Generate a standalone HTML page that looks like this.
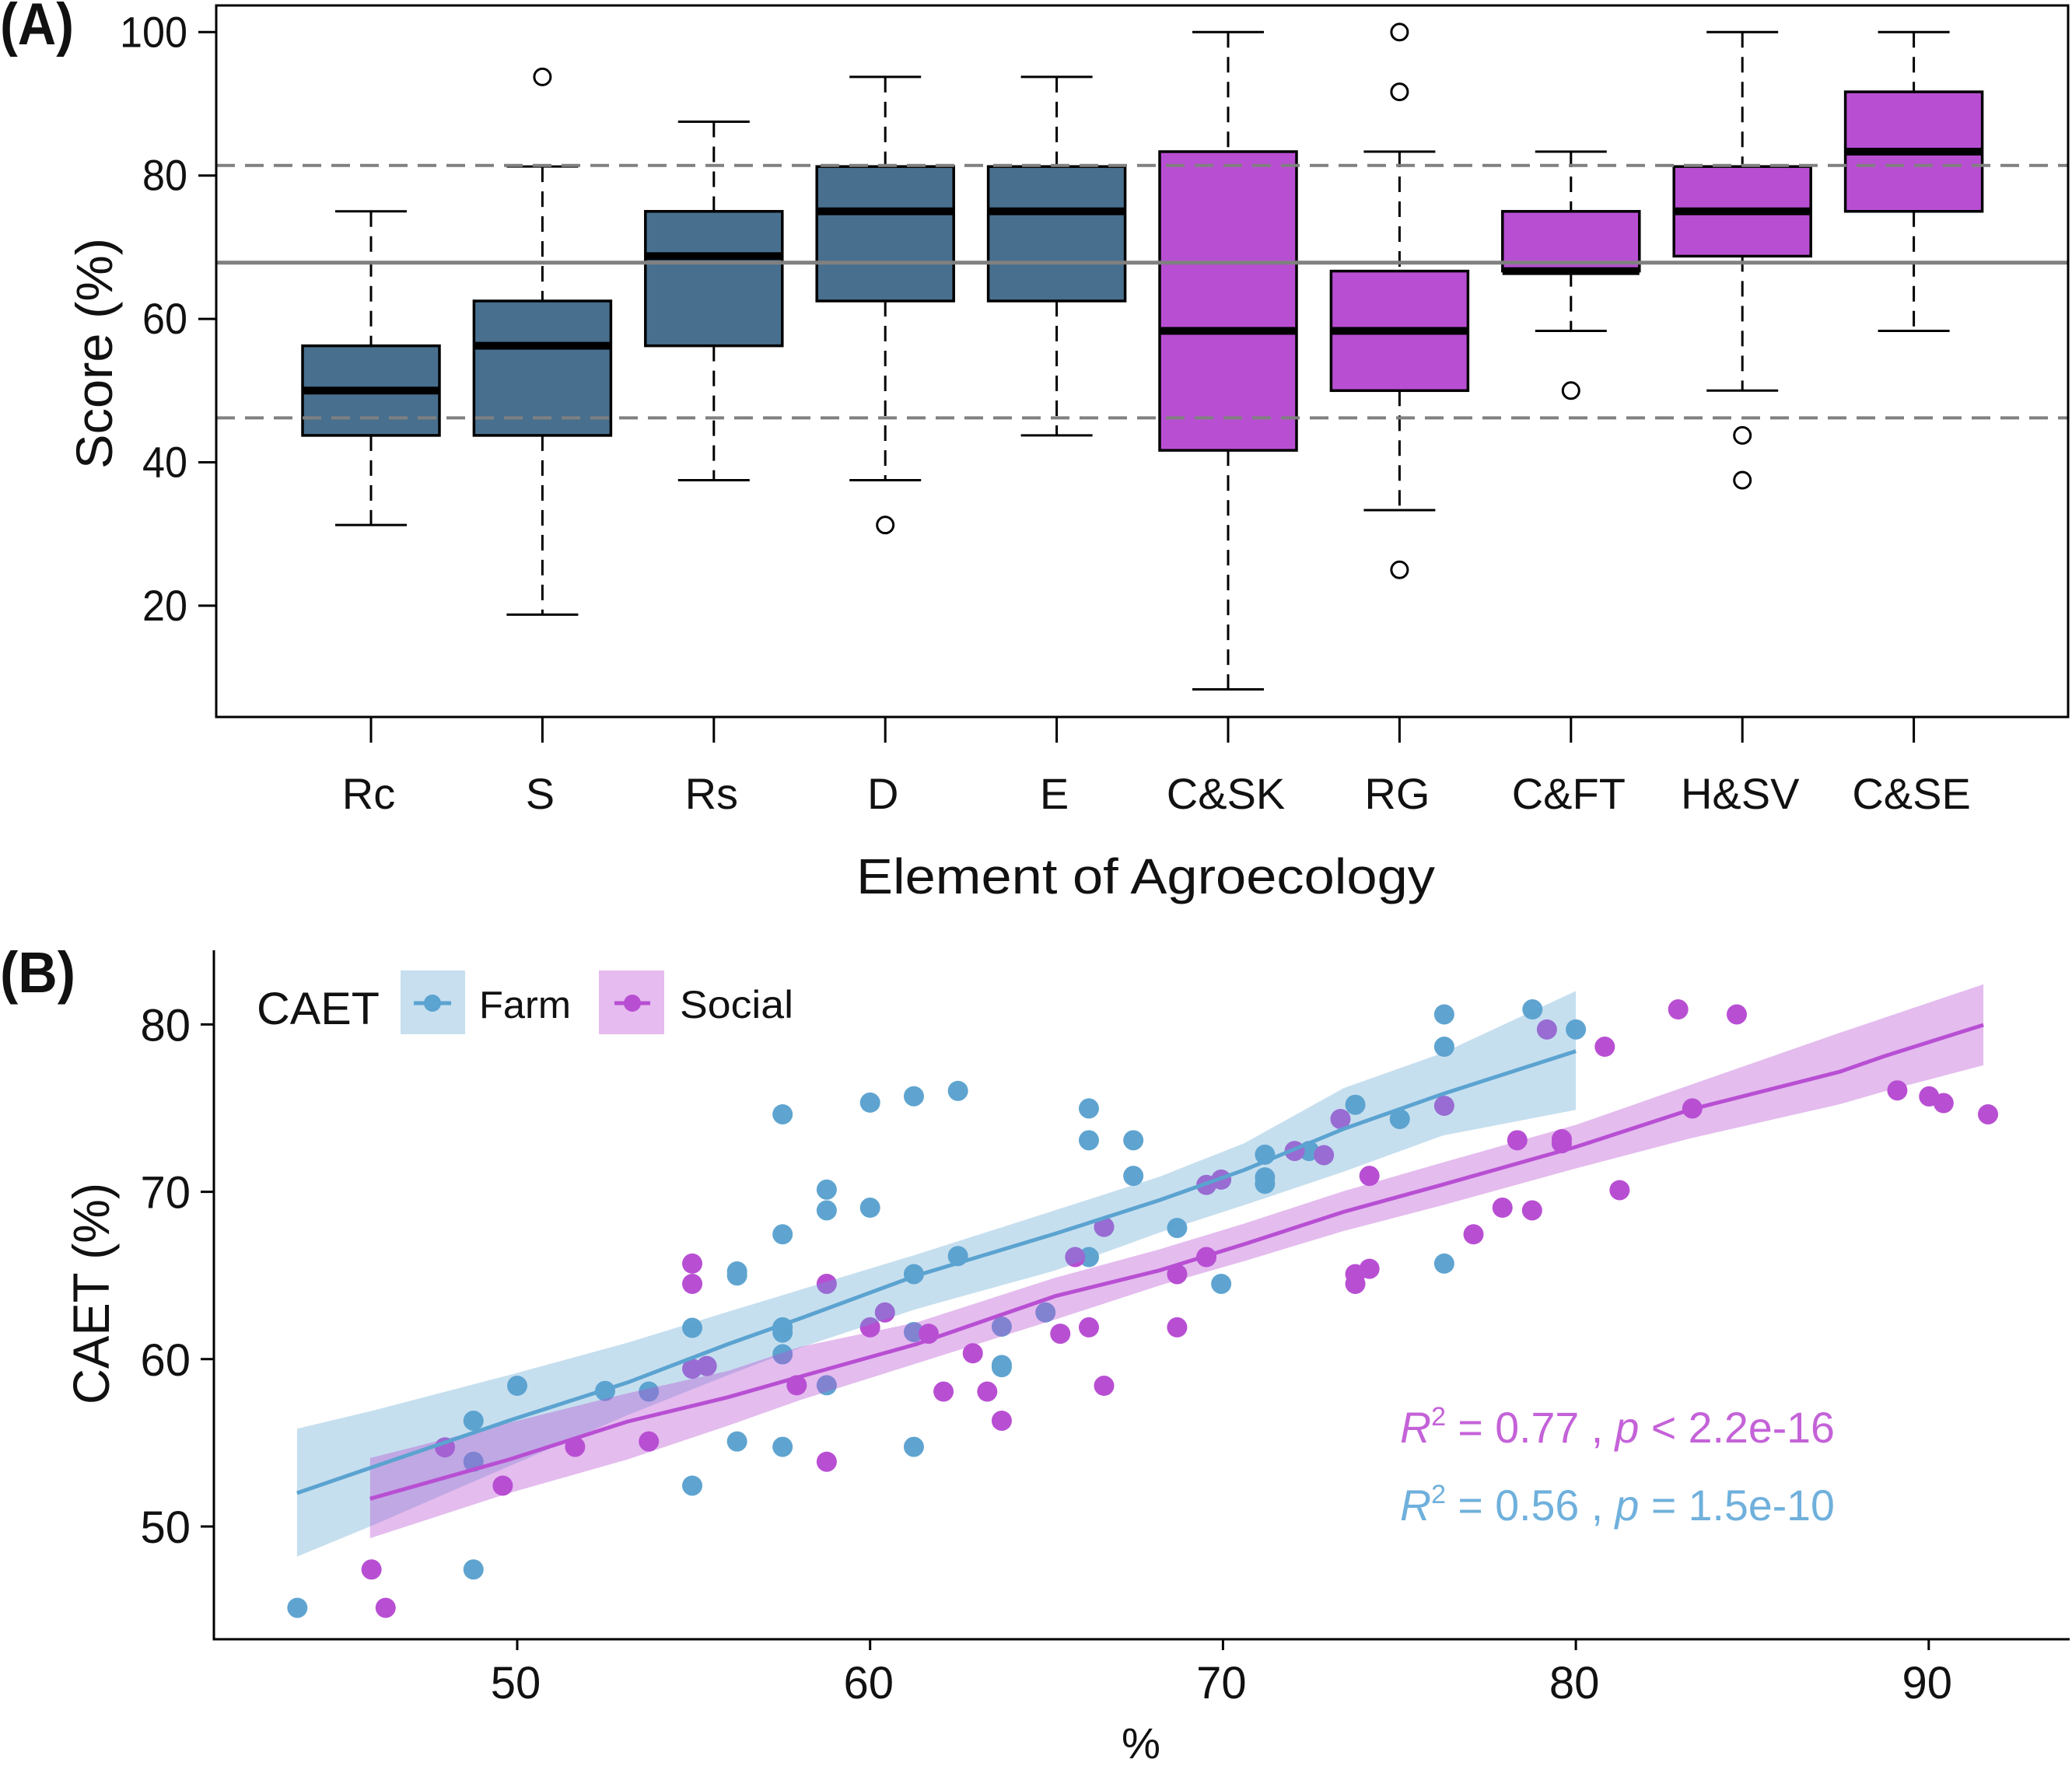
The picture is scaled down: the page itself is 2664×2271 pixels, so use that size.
<!DOCTYPE html>
<html lang="en">
<head>
<meta charset="utf-8">
<title>Agroecology element scores and CAET regression</title>
<style>
  html,body{margin:0;padding:0;background:#fff;}
  svg{display:block;}
  text{font-family:"Liberation Sans",sans-serif;fill:#111;}
</style>
</head>
<body>
<svg id="fig" xmlns="http://www.w3.org/2000/svg" width="2664" height="2271" viewBox="0 0 2664 2271">
  <rect x="0" y="0" width="2664" height="2271" fill="#fff"/>

  <!-- Panel A static -->
  <g id="panelA"></g>
  <text x="0" y="57" font-size="76" font-weight="bold" textLength="95" lengthAdjust="spacingAndGlyphs">(A)</text>
  <text transform="translate(144,603) rotate(-90)" font-size="66" textLength="297" lengthAdjust="spacingAndGlyphs">Score (%)</text>
  <text x="1101" y="1149" font-size="64" textLength="744" lengthAdjust="spacingAndGlyphs">Element of Agroecology</text>

  <!-- Panel B static -->
  <g id="panelB"></g>
  <text x="0" y="1276" font-size="74" font-weight="bold" textLength="97" lengthAdjust="spacingAndGlyphs">(B)</text>
  <text transform="translate(140,1806) rotate(-90)" font-size="66" textLength="285" lengthAdjust="spacingAndGlyphs">CAET (%)</text>
  <text x="1442" y="2261" font-size="56" textLength="50" lengthAdjust="spacingAndGlyphs">%</text>

  <g>
    <text x="330" y="1317" font-size="58" textLength="158" lengthAdjust="spacingAndGlyphs">CAET</text>
    <rect x="515" y="1248" width="83" height="82" fill="#c7dfef"/>
    <line x1="532" y1="1290" x2="580" y2="1290" stroke="#5ba3d0" stroke-width="5"/>
    <circle cx="556" cy="1290" r="11" fill="#5ba3d0"/>
    <text x="616" y="1309" font-size="49" textLength="118" lengthAdjust="spacingAndGlyphs">Farm</text>
    <rect x="770" y="1248" width="84" height="82" fill="#e6bbef"/>
    <line x1="790" y1="1290" x2="836" y2="1290" stroke="#b84fd3" stroke-width="5"/>
    <circle cx="813" cy="1290" r="11" fill="#b84fd3"/>
    <text x="874" y="1309" font-size="50" textLength="146" lengthAdjust="spacingAndGlyphs">Social</text>
  </g>

  <text x="1800" y="1855" font-size="55.5" style="fill:#c462d8"><tspan font-style="italic" style="fill:#c462d8">R</tspan><tspan dy="-22" font-size="34" style="fill:#c462d8">2</tspan><tspan dy="22" style="fill:#c462d8"> = 0.77 , </tspan><tspan font-style="italic" style="fill:#c462d8">p</tspan><tspan style="fill:#c462d8"> &lt; 2.2e-16</tspan></text>
  <text x="1800" y="1955" font-size="55.5" style="fill:#6fb0dc"><tspan font-style="italic" style="fill:#6fb0dc">R</tspan><tspan dy="-22" font-size="34" style="fill:#6fb0dc">2</tspan><tspan dy="22" style="fill:#6fb0dc"> = 0.56 , </tspan><tspan font-style="italic" style="fill:#6fb0dc">p</tspan><tspan style="fill:#6fb0dc"> = 1.5e-10</tspan></text>
</svg>

<script>
// ---------- Panel A data ----------
const categories = ["Rc","S","Rs","D","E","C&SK","RG","C&FT","H&SV","C&SE"];
const groups = ["farm","farm","farm","farm","farm","social","social","social","social","social"];
const q1Values = [43.75,43.75,56.25,62.5,62.5,41.67,50,66.67,68.75,75];
const medianValues = [50,56.25,68.75,75,75,58.33,58.33,66.67,75,83.33];
const q3Values = [56.25,62.5,75,81.25,81.25,83.33,66.67,75,81.25,91.67];
const lowValues = [31.25,18.75,37.5,37.5,43.75,8.33,33.33,58.33,50,58.33];
const highValues = [75,81.25,87.5,93.75,93.75,100,83.33,83.33,100,100];
const outlierValues = [[],[93.75],[],[31.25],[],[],[100,91.67,25],[50],[43.75,37.5],[]];
const scoreTicks = [20,40,60,80,100];
const meanLine = 67.85;
const upperLine = 81.4;
const lowerLine = 46.2;

// ---------- Panel B data ----------
const farmX = [43.77,48.76,48.76,48.76,50,52.49,53.73,54.96,54.96,56.23,56.23,56.23,57.52,57.52,57.52,57.52,57.52,57.52,58.77,58.77,58.77,60,60,61.24,61.24,61.24,61.24,62.49,62.49,63.73,63.73,63.73,64.97,66.2,66.2,66.2,67.46,67.46,68.7,69.95,71.19,71.19,71.19,72.44,73.75,75.01,76.27,76.27,76.27,78.77,80];
const farmY = [45.14,47.43,53.87,56.32,58.41,58.1,58.06,61.87,52.44,65.24,65,55.08,74.63,67.46,61.9,61.59,60.29,54.76,70.13,68.89,58.44,75.33,69.05,75.71,65.08,61.62,54.76,76.03,66.16,61.94,59.52,59.65,62.79,74.98,73.08,66.1,73.08,70.95,67.84,64.5,72.22,70.86,70.48,72.44,75.2,74.35,80.6,78.67,65.71,80.9,79.7];
const socialX = [45.87,46.27,47.95,49.59,51.64,53.73,54.96,54.96,54.96,55.37,57.92,58.77,58.77,60,60.42,61.66,62.08,62.91,63.32,63.73,65.39,65.81,66.2,66.63,66.63,68.7,68.7,69.53,69.53,69.95,72.03,72.86,73.33,73.75,73.75,74.15,74.15,76.27,77.1,77.92,78.34,78.76,79.18,79.6,79.6,80.82,81.24,82.9,83.3,84.56,89.11,90.01,90.42,91.68];
const socialY = [47.43,45.14,54.73,52.44,54.76,55.08,65.71,64.5,59.43,59.59,58.44,64.5,53.87,61.9,62.79,61.52,58.06,60.35,58.06,56.32,61.52,66.1,61.9,67.9,58.41,65.08,61.9,66.1,70.41,70.73,72.44,72.19,74.35,65.08,64.5,70.95,65.4,75.14,67.46,69.05,73.08,68.89,79.7,73.14,72.9,78.67,70.1,80.9,74.98,80.6,76.06,75.7,75.3,74.63];

const farmFitX = [43.76,45.83,49.77,53.12,55.98,58.04,61.32,65.25,68.2,70.6,73.42,76.23,80];
const farmFitLine = [52,53.5,56.33,58.6,60.9,62.45,65,67.5,69.5,71.3,73.76,75.85,78.4];
const farmFitUpper = [55.84,56.88,59.05,60.98,62.84,64.16,66.26,68.9,70.9,72.9,76.2,78.3,82];
const farmFitLower = [48.2,50,53.6,56.65,59.05,60.7,63,65.3,67.56,69.2,71.2,73.36,74.9];

const socialFitX = [45.83,49.77,53.12,55.98,58.04,61.32,65.25,68.2,70.6,73.42,76.23,80,83.26,87.47,88.74,91.55];
const socialFitLine = [51.66,54,56.27,57.73,58.97,60.9,63.77,65.3,66.87,68.8,70.43,72.68,74.92,77.17,78.1,79.97];
const socialFitUpper = [54.09,56.2,57.96,59.3,60.75,62.2,64.87,66.56,68.1,70.04,71.75,74,76.4,79.5,80.4,82.4];
const socialFitLower = [49.3,52,54,56.03,57.57,59.75,62.37,64.4,65.86,67.66,69.2,71.4,73.2,75.23,76,77.56];

const caetTicks = [50,60,70,80];
const percentTicks = [50,60,70,80,90];

// ---------- helpers ----------
const NS = "http://www.w3.org/2000/svg";
function make(parent, tag, attrs, text){
  const node = document.createElementNS(NS, tag);
  for (const k in attrs) node.setAttribute(k, attrs[k]);
  if (text !== undefined) node.textContent = text;
  parent.appendChild(node);
  return node;
}
let el;

// ---------- Panel A ----------
const panelA = document.getElementById("panelA");
const xA = i => 477 + 220.4 * i;
const yA = v => 41.3 + (100 - v) * 9.22;
const boxFill = {farm:"#486f8e", social:"#b84fd3"};

categories.forEach((name, i) => {
  const cx = xA(i);
  const halfBox = 88, halfCap = 46;
  // whiskers
  el = make(panelA, "line", {x1:cx,x2:cx,y1:yA(highValues[i]),y2:yA(q3Values[i]),stroke:"#000","stroke-width":3,"stroke-dasharray":"20 12"});
  
  
  el = make(panelA, "line", {x1:cx,x2:cx,y1:yA(q1Values[i]),y2:yA(lowValues[i]),stroke:"#000","stroke-width":3,"stroke-dasharray":"20 12"});
  
  
  el = make(panelA, "line", {x1:cx-halfCap,x2:cx+halfCap,y1:yA(highValues[i]),y2:yA(highValues[i]),stroke:"#000","stroke-width":3});
  
  
  el = make(panelA, "line", {x1:cx-halfCap,x2:cx+halfCap,y1:yA(lowValues[i]),y2:yA(lowValues[i]),stroke:"#000","stroke-width":3});
  
  
  // box
  el = make(panelA, "rect", {x:cx-halfBox,y:yA(q3Values[i]),width:halfBox*2,height:yA(q1Values[i])-yA(q3Values[i]),fill:boxFill[groups[i]],stroke:"#000","stroke-width":3.5});
  
  
  // median
  el = make(panelA, "line", {x1:cx-halfBox,x2:cx+halfBox,y1:yA(medianValues[i]),y2:yA(medianValues[i]),stroke:"#000","stroke-width":10});
  
  
  // outliers
  outlierValues[i].forEach(v => {
    el = make(panelA, "circle", {cx:cx,cy:yA(v),r:10.5,fill:"none",stroke:"#000","stroke-width":3});
    
    
  });
  // tick + label
  el = make(panelA, "line", {x1:cx,x2:cx,y1:922,y2:955,stroke:"#000","stroke-width":3});
  
  
  el = make(panelA, "text", {x:cx-3,y:1040,"font-size":56,"text-anchor":"middle"}, name);
  
  
});

// reference lines
el = make(panelA, "line", {x1:278,x2:2659,y1:yA(upperLine),y2:yA(upperLine),stroke:"#808080","stroke-width":4,"stroke-dasharray":"24 13"});


el = make(panelA, "line", {x1:278,x2:2659,y1:yA(meanLine),y2:yA(meanLine),stroke:"#808080","stroke-width":5});


el = make(panelA, "line", {x1:278,x2:2659,y1:yA(lowerLine),y2:yA(lowerLine),stroke:"#808080","stroke-width":4,"stroke-dasharray":"24 13"});



scoreTicks.forEach(v => {
  const label = String(v);
  el = make(panelA, "line", {x1:255,x2:278,y1:yA(v),y2:yA(v),stroke:"#000","stroke-width":3});
  
  
  el = make(panelA, "text", {x:241,y:yA(v)+19,"font-size":56,"text-anchor":"end",textLength:label.length*29,lengthAdjust:"spacingAndGlyphs"}, label);
  
  
});

el = make(panelA, "rect", {x:278,y:7,width:2381,height:915,fill:"none",stroke:"#000","stroke-width":3});



// ---------- Panel B ----------
const panelB = document.getElementById("panelB");
const xB = v => 665 + (v - 50) * 45.37;
const yB = v => 1963 - (v - 50) * 21.52;

farmX.forEach((x, i) => {
  el = make(panelB, "circle", {cx:xB(x),cy:yB(farmY[i]),r:13,fill:"#5fa4d0"});
  
  
});
socialX.forEach((x, i) => {
  el = make(panelB, "circle", {cx:xB(x),cy:yB(socialY[i]),r:13,fill:"#b84fd3"});
  
  
});

function ribbonPath(xs, up, lo){
  const top = xs.map((x,i) => xB(x).toFixed(1) + "," + yB(up[i]).toFixed(1));
  const bot = xs.map((x,i) => xB(x).toFixed(1) + "," + yB(lo[i]).toFixed(1)).reverse();
  return top.concat(bot).join(" ");
}
function linePath(xs, ys){
  return xs.map((x,i) => xB(x).toFixed(1) + "," + yB(ys[i]).toFixed(1)).join(" ");
}

el = make(panelB, "polygon", {points:ribbonPath(farmFitX,farmFitUpper,farmFitLower),fill:"#5ba3d0","fill-opacity":0.35});


el = make(panelB, "polygon", {points:ribbonPath(socialFitX,socialFitUpper,socialFitLower),fill:"#b84fd3","fill-opacity":0.38});


el = make(panelB, "polyline", {points:linePath(farmFitX,farmFitLine),fill:"none",stroke:"#5ba3d0","stroke-width":5});


el = make(panelB, "polyline", {points:linePath(socialFitX,socialFitLine),fill:"none",stroke:"#b84fd3","stroke-width":5});



caetTicks.forEach(v => {
  el = make(panelB, "line", {x1:258,x2:275,y1:yB(v),y2:yB(v),stroke:"#000","stroke-width":3});
  
  
  el = make(panelB, "text", {x:245,y:yB(v)+21,"font-size":58,"text-anchor":"end"}, String(v));
  
  
});
percentTicks.forEach(v => {
  el = make(panelB, "line", {x1:xB(v),x2:xB(v),y1:2108,y2:2122,stroke:"#000","stroke-width":3});
  
  
  el = make(panelB, "text", {x:xB(v)-2,y:2184,"font-size":58,"text-anchor":"middle"}, String(v));
  
  
});

el = make(panelB, "line", {x1:275,x2:275,y1:1222,y2:2109.5,stroke:"#000","stroke-width":3});


el = make(panelB, "line", {x1:275,x2:2661,y1:2108,y2:2108,stroke:"#000","stroke-width":3});


</script>
</body>
</html>
